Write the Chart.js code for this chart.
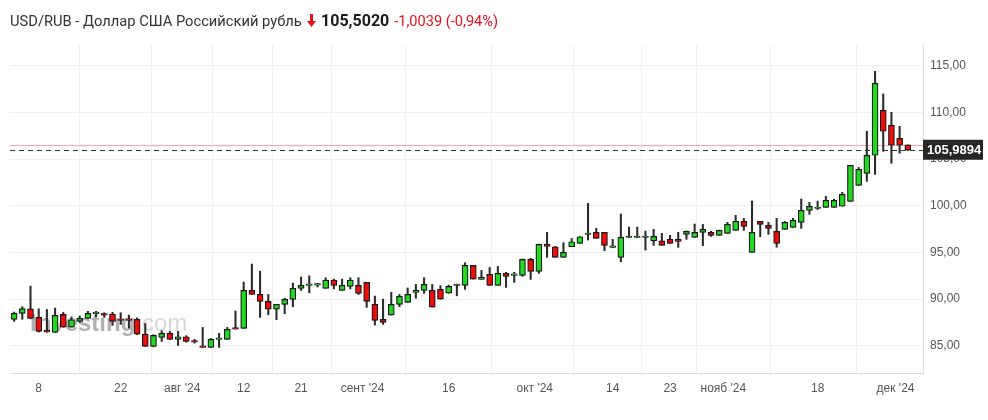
<!DOCTYPE html>
<html>
<head>
<meta charset="utf-8">
<script src="https://cdn.jsdelivr.net/npm/chart.js@4.4.1/dist/chart.umd.min.js"></script>
<style>
  html, body { margin: 0; padding: 0; background: #fff; }
  #wrap { position: relative; width: 988px; height: 420px; }
  #chart { position: absolute; left: 0; top: 0; }
  #title {
    position: absolute; left: 10px; top: 11px; z-index: 2;
    font-family: Roboto, "Liberation Sans", Arial, sans-serif; font-size: 14.7px;
    color: #333; white-space: nowrap;
  }
  #title b { color: #1a1a1a; font-size: 16px; margin-left: 1px; }
  #title .chg { color: #e5131d; margin-left: 5px; font-size: 14.6px; }
  #title svg { vertical-align: -1px; margin: 0 0 0 2px; }
</style>
</head>
<body>
<div id="wrap">
  <div id="title">
    <span id="name"></span>
    <svg width="9" height="13" viewBox="0 0 9 13"><path d="M3 0h3v7h3L4.5 13 0 7h3z" fill="#e5131d"/></svg>
    <b id="price"></b><span class="chg" id="chg"></span>
  </div>
  <canvas id="chart" width="988" height="420"></canvas>
</div>
<script>
const pairName = 'USD/RUB - Доллар США Российский рубль';
const lastPrice = '105,5020';
const priceChange = '-1,0039 (-0,94%)';

// daily candles, Jul 3 .. Dec 3 2024 (trading days)
const open = [
  87.84, 88.48, 88.97, 88.05, 86.55, 86.45, 88.37, 87.01, 87.62, 87.94,
  88.45, 88.35, 88.41, 87.75, 87.75, 87.84, 86.26, 84.94, 85.91, 86.34,
  85.70, 85.98, 85.45, 84.98, 84.84, 85.70, 85.70, 86.85, 86.87, 90.94,
  90.51, 89.76, 88.94, 89.44, 89.98, 91.16, 91.48, 91.50, 91.16, 92.04,
  90.94, 91.37, 91.48, 91.80, 89.44, 87.84, 88.30, 89.44, 89.66, 90.73,
  90.94, 90.94, 91.05, 90.65, 91.46, 91.48, 93.62, 92.12, 92.66, 91.48,
  92.76, 92.55, 92.55, 94.26, 92.98, 95.87, 95.61, 94.48, 95.61, 95.97,
  96.92, 97.15, 97.15, 95.55, 94.48, 96.60, 96.60, 96.60, 96.25, 96.25,
  96.40, 96.40, 96.94, 96.62, 97.15, 97.15, 96.83, 97.04, 97.37, 98.33,
  95.01, 98.33, 97.90, 97.26, 97.47, 97.69, 98.22, 99.51, 99.70, 99.83,
  99.83, 99.94, 100.47, 102.18, 103.47, 105.40, 110.21, 108.61, 107.22, 106.51
];
const high = [
  88.62, 89.20, 91.40, 88.97, 88.90, 89.05, 88.60, 88.10, 88.20, 88.70,
  88.70, 88.55, 88.60, 88.55, 88.30, 88.00, 87.40, 86.20, 86.62, 86.55,
  86.55, 86.10, 85.70, 86.98, 85.80, 86.34, 86.98, 88.73, 91.83, 93.76,
  93.00, 90.50, 89.44, 90.10, 91.72, 92.37, 92.50, 91.70, 92.30, 92.15,
  92.15, 92.30, 92.30, 91.80, 90.33, 90.00, 90.73, 90.50, 91.20, 91.58,
  92.29, 91.58, 91.45, 91.50, 91.60, 93.90, 93.62, 93.08, 93.40, 93.50,
  92.87, 92.87, 94.30, 94.37, 95.90, 97.15, 95.65, 96.04, 96.50, 96.70,
  100.26, 97.58, 97.15, 96.40, 99.11, 97.72, 97.72, 97.29, 97.47, 97.04,
  96.83, 97.15, 97.30, 98.04, 98.00, 97.26, 97.40, 98.22, 98.97, 98.65,
  100.50, 98.33, 98.22, 98.65, 98.30, 98.65, 100.72, 100.36, 100.50, 101.00,
  100.70, 101.43, 104.33, 104.10, 107.97, 114.39, 111.96, 110.00, 108.50, 106.51
];
const low = [
  87.62, 87.85, 87.90, 86.48, 86.45, 86.45, 87.00, 87.00, 87.50, 87.94,
  88.10, 88.05, 87.20, 87.30, 86.90, 86.20, 84.94, 84.90, 85.48, 85.70,
  85.05, 85.40, 85.30, 84.84, 84.84, 84.84, 85.70, 86.80, 86.87, 90.50,
  88.05, 88.33, 87.80, 88.45, 89.19, 90.94, 90.69, 91.30, 91.16, 91.10,
  90.94, 91.10, 90.50, 89.12, 87.23, 87.30, 88.30, 89.20, 89.66, 90.10,
  90.62, 89.15, 90.00, 90.65, 90.36, 91.05, 92.15, 92.12, 91.48, 91.48,
  91.26, 91.80, 92.44, 92.12, 92.76, 94.48, 94.48, 94.48, 95.61, 95.97,
  96.33, 96.51, 95.18, 95.50, 94.00, 96.60, 96.60, 95.26, 95.76, 95.76,
  95.97, 95.55, 96.40, 96.62, 95.72, 96.72, 96.83, 97.04, 97.37, 97.37,
  95.00, 96.68, 96.94, 95.55, 97.47, 97.69, 97.58, 99.08, 99.60, 99.83,
  99.83, 99.94, 100.47, 102.18, 102.61, 103.36, 105.82, 104.54, 105.61, 105.90
];
const close = [
  88.48, 89.00, 87.94, 86.55, 86.50, 88.27, 87.01, 87.80, 87.94, 88.48,
  88.50, 88.30, 87.62, 87.73, 87.73, 86.26, 84.94, 86.12, 86.34, 85.70,
  85.98, 85.48, 85.40, 84.84, 85.70, 85.72, 86.77, 86.80, 90.94, 90.51,
  89.76, 88.94, 89.44, 89.98, 91.16, 91.48, 91.50, 91.51, 92.04, 91.48,
  91.48, 92.04, 90.62, 89.76, 87.73, 87.52, 89.44, 90.30, 90.51, 90.94,
  91.58, 89.15, 90.00, 91.37, 91.48, 93.62, 92.15, 92.33, 91.48, 92.76,
  92.44, 92.56, 94.26, 92.98, 95.87, 95.65, 94.48, 95.00, 96.15, 96.68,
  96.95, 96.51, 95.76, 95.55, 96.62, 96.62, 96.62, 96.62, 96.72, 95.76,
  95.97, 96.19, 97.26, 97.15, 97.47, 96.83, 97.37, 98.01, 98.33, 97.79,
  97.15, 98.01, 97.58, 95.97, 98.22, 98.44, 99.51, 99.94, 99.72, 100.58,
  100.58, 101.22, 104.33, 103.90, 105.40, 113.10, 107.97, 106.47, 106.47, 105.99
];

const prevClose = 106.5059;
const lastClose = 105.9894;

const tickPos  = [3, 13, 20.5, 28, 35, 42.5, 53, 63.5, 73, 80, 86.5, 98, 107.5];
const tickText = ['8', '22', "авг '24", '12', '21', "сент '24", '16', "окт '24", '14', '23', "нояб '24", '18', "дек '24"];
const yTicks = [85, 90, 95, 100, 105, 110, 115];

const green = '#22d822';
const red = '#f20d0d';
const fontFamily = '"Liberation Sans", Arial, sans-serif';

document.getElementById('name').textContent = pairName;
document.getElementById('price').textContent = lastPrice;
document.getElementById('chg').textContent = priceChange;

const fmt = v => v.toFixed(2).replace('.', ',');

const priceLines = {
    id: 'priceLines',
    beforeDatasetsDraw(chart) {
        const { ctx, chartArea: a, scales: { y } } = chart;
        ctx.save();
        // watermark
        ctx.textBaseline = 'alphabetic';
        ctx.font = 'bold 24px ' + fontFamily;
        ctx.fillStyle = 'rgba(100,100,100,0.5)';
        ctx.fillText('Investing', 30, 331);
        const w = ctx.measureText('Investing').width;
        ctx.font = '24px ' + fontFamily;
        ctx.fillStyle = 'rgba(140,140,140,0.35)';
        ctx.fillText('.com', 30 + w, 331);

        const yp = Math.round(y.getPixelForValue(prevClose)) + 0.5;
        ctx.strokeStyle = '#f5abab';
        ctx.lineWidth = 1;
        ctx.beginPath();
        ctx.moveTo(a.left, yp);
        ctx.lineTo(a.right, yp);
        ctx.stroke();

        const yl = Math.round(y.getPixelForValue(lastClose)) + 0.5;
        ctx.strokeStyle = '#333';
        ctx.setLineDash([5, 4]);
        ctx.beginPath();
        ctx.moveTo(a.left, yl);
        ctx.lineTo(a.right, yl);
        ctx.stroke();
        ctx.restore();
    },
    afterDraw(chart) {
        const { ctx, chartArea: a, scales: { y } } = chart;
        const yl = y.getPixelForValue(lastClose);
        ctx.save();
        ctx.fillStyle = '#262626';
        ctx.fillRect(a.right, yl - 10, 60, 20);
        ctx.fillStyle = '#fff';
        ctx.font = 'bold 13px ' + fontFamily;
        ctx.textBaseline = 'middle';
        ctx.fillText(lastClose.toFixed(4).replace('.', ','), a.right + 4, yl + 1);
        ctx.restore();
    }
};

new Chart(document.getElementById('chart'), {
    type: 'bar',
    data: {
        datasets: [
            {
                label: 'body',
                data: open.map((o, i) => ({ x: i, y: [o, close[i]] })),
                backgroundColor: open.map((o, i) => close[i] >= o ? green : red),
                borderColor: '#161616',
                borderWidth: 1.2,
                borderSkipped: false,
                barThickness: 6,
                minBarLength: 1.5,
                grouped: false,
                order: 0
            },
            {
                label: 'wick',
                data: high.map((h, i) => ({ x: i, y: [low[i], h] })),
                backgroundColor: '#2a2a2a',
                barThickness: 1.4,
                grouped: false,
                order: 1
            }
        ]
    },
    options: {
        responsive: false,
        animation: false,
        layout: { padding: { top: 45, left: 10, right: 0, bottom: 0 } },
        plugins: { legend: { display: false }, tooltip: { enabled: false } },
        scales: {
            x: {
                type: 'linear',
                min: -0.5,
                max: 110.85,
                offset: false,
                afterBuildTicks: s => { s.ticks = tickPos.map(v => ({ value: v })); },
                afterFit: s => { s.height = 47; },
                grid: { color: '#f1f1f1', drawTicks: false },
                border: { color: '#dcdcdc' },
                ticks: {
                    padding: 8, color: '#555', autoSkip: false, maxRotation: 0,
                    font: { size: 12, family: fontFamily },
                    callback: (v, i) => tickText[i]
                }
            },
            y: {
                position: 'right',
                min: 82.1,
                max: 117.2,
                afterBuildTicks: s => { s.ticks = yTicks.map(v => ({ value: v })); },
                afterFit: s => { s.width = 65; },
                grid: { color: '#f0f0f0', drawTicks: false },
                border: { color: '#dcdcdc' },
                ticks: {
                    padding: 7, color: '#555',
                    font: { size: 12, family: fontFamily },
                    callback: v => fmt(v)
                }
            }
        }
    },
    plugins: [priceLines]
});
</script>
</body>
</html>
